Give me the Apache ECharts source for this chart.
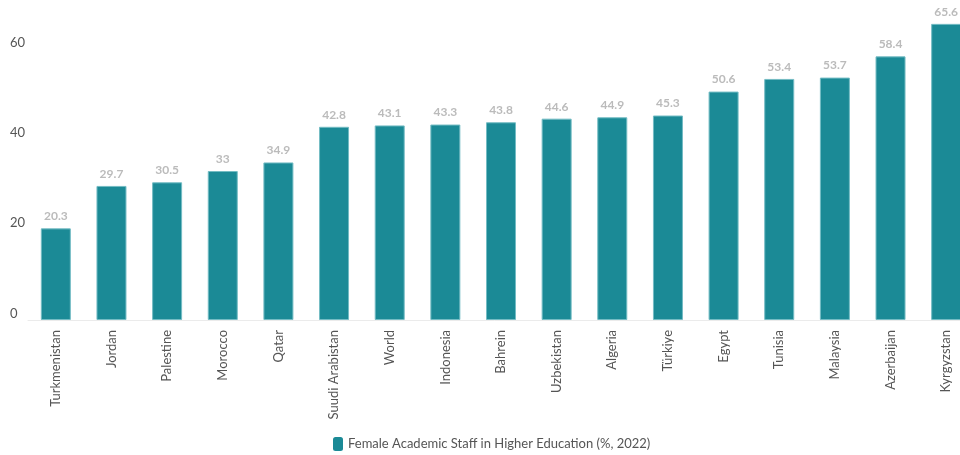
<!DOCTYPE html>
<html>
<head>
<meta charset="utf-8">
<script src="https://cdn.jsdelivr.net/npm/echarts@6/dist/echarts.min.js"></script>
<style>
  html, body { margin: 0; padding: 0; background: #fff; }
  #chart { width: 960px; height: 455px; }
</style>
</head>
<body>
<div id="chart"></div>
<script>
// Share of women among academic staff in higher education, 2022
const countries = [
  'Turkmenistan', 'Jordan', 'Palestine', 'Morocco', 'Qatar', 'Suudi Arabistan',
  'World', 'Indonesia', 'Bahrein', 'Uzbekistan', 'Algeria', 'Türkiye',
  'Egypt', 'Tunisia', 'Malaysia', 'Azerbaijan', 'Kyrgyzstan'
];
const femaleStaffPct = [
  20.3, 29.7, 30.5, 33, 34.9, 42.8,
  43.1, 43.3, 43.8, 44.6, 44.9, 45.3,
  50.6, 53.4, 53.7, 58.4, 65.6
];
const seriesName = 'Female Academic Staff in Higher Education (%, 2022)';
const valueTicks = { min: 0, max: 70, interval: 20 };

const fontFamily = 'Lato, "Noto Sans", sans-serif';
const chart = echarts.init(document.getElementById('chart'), null, { renderer: 'canvas' });

chart.setOption({
  animation: false,
  textStyle: { fontFamily: fontFamily },
  // plot area runs slightly past the right edge, so the last bar sits flush with it
  grid: {
    left: 28, width: 946, top: 4, bottom: 135,
    containLabel: false,
    outerBoundsMode: 'none'
  },
  legend: {
    left: 328,
    top: 432,
    itemWidth: 10,
    itemHeight: 14,
    itemGap: 4,
    icon: 'roundRect',
    itemStyle: { borderWidth: 0 },
    textStyle: { color: '#555', fontSize: 13, fontFamily: fontFamily },
    data: [seriesName]
  },
  xAxis: {
    type: 'category',
    data: countries,
    axisLine: { lineStyle: { color: '#ebebeb', width: 1 } },
    axisTick: { alignWithLabel: true, length: 6, lineStyle: { color: '#e0e0e0' } },
    axisLabel: {
      rotate: 90,
      interval: 0,
      margin: 10,
      color: '#555',
      fontSize: 13,
      fontFamily: fontFamily
    }
  },
  yAxis: {
    type: 'value',
    min: valueTicks.min,
    max: valueTicks.max,
    interval: valueTicks.interval,
    splitLine: { show: false },
    axisLine: { show: false },
    axisTick: { show: false },
    axisLabel: {
      showMaxLabel: false,
      align: 'left',
      verticalAlign: 'bottom',
      margin: 18,
      color: '#555',
      fontSize: 13,
      fontFamily: fontFamily
    }
  },
  series: [{
    name: seriesName,
    type: 'bar',
    data: femaleStaffPct,
    barWidth: 30,
    itemStyle: {
      color: '#1b8a96',
      borderColor: '#74bcc4',
      borderWidth: 1
    },
    label: {
      show: true,
      position: 'top',
      distance: 6,
      color: '#bbbbbb',
      fontSize: 12,
      fontWeight: 'bold',
      fontFamily: fontFamily
    }
  }]
});
</script>
</body>
</html>
